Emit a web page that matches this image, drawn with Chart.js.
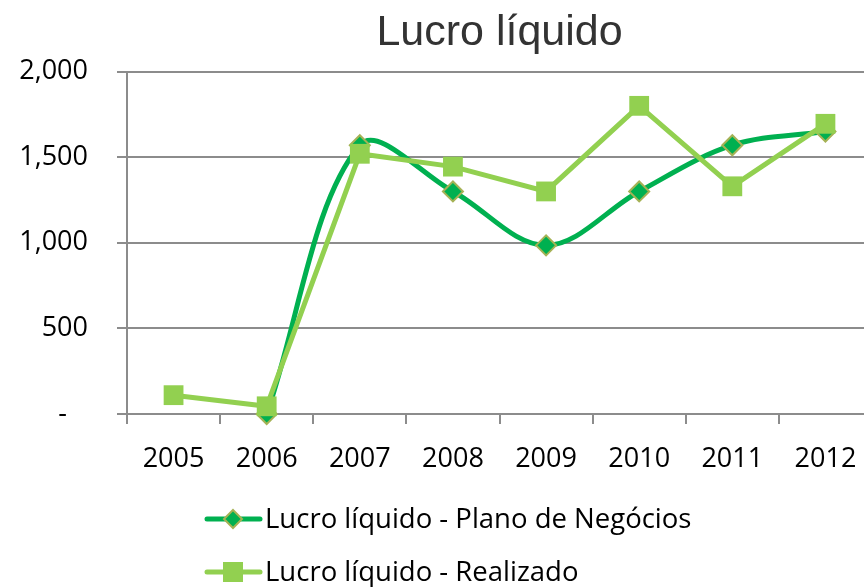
<!DOCTYPE html>
<html>
<head>
<meta charset="utf-8">
<title>Lucro líquido</title>
<script src="https://cdn.jsdelivr.net/npm/chart.js@4.4.0/dist/chart.umd.min.js"></script>
<style>
    html, body { margin: 0; padding: 0; overflow: hidden; background: #fff; }
    #wrap { width: 886px; height: 587px; }
</style>
</head>
<body>
<div id="wrap"><canvas id="lucroChart" width="886" height="587"></canvas></div>
<script>
// Lucro líquido: plano de negócios vs realizado
const years = ['2005', '2006', '2007', '2008', '2009', '2010', '2011', '2012'];
const planoNegocios = [null, 0, 1570, 1300, 985, 1300, 1570, 1650];
const realizado = [110, 45, 1520, 1445, 1300, 1800, 1330, 1695];
const yTicks = [0, 500, 1000, 1500, 2000];

const darkGreen = '#00B050';
const lightGreen = '#92D050';
const olive = '#A5B255';
const gridGray = '#8C8C8C';
const textFont = "'Open Sans', 'Liberation Sans', sans-serif";

// Legend drawn in two left-aligned rows under the axis
const stackedLegend = {
    id: 'stackedLegend',
    afterDraw(chart) {
        const ctx = chart.ctx;
        const rows = [519, 572];
        ctx.save();
        chart.data.datasets.forEach((ds, i) => {
            const y = rows[i];
            ctx.strokeStyle = ds.borderColor;
            ctx.lineWidth = 5;
            ctx.lineCap = 'round';
            ctx.beginPath();
            ctx.moveTo(207, y);
            ctx.lineTo(260, y);
            ctx.stroke();

            ctx.fillStyle = ds.pointBackgroundColor;
            ctx.strokeStyle = ds.pointBorderColor;
            ctx.lineWidth = 2;
            ctx.beginPath();
            if (ds.pointStyle === 'rectRot') {
                ctx.moveTo(233, y - 9);
                ctx.lineTo(242, y);
                ctx.lineTo(233, y + 9);
                ctx.lineTo(224, y);
                ctx.closePath();
                ctx.fill();
                ctx.stroke();
            } else {
                ctx.rect(223, y - 10, 20, 20);
                ctx.fill();
            }

            ctx.fillStyle = '#000';
            ctx.font = '27.5px ' + textFont;
            ctx.textBaseline = 'middle';
            ctx.textAlign = 'left';
            ctx.fillText(ds.label, 265, y + 1);
        });
        ctx.restore();
    }
};

new Chart(document.getElementById('lucroChart'), {
    type: 'line',
    data: {
        labels: years,
        datasets: [
            {
                label: 'Lucro líquido - Plano de Negócios',
                data: planoNegocios,
                borderColor: darkGreen,
                borderWidth: 5,
                tension: 0.35,
                pointStyle: 'rectRot',
                pointRadius: 10,
                pointBackgroundColor: darkGreen,
                pointBorderColor: olive,
                pointBorderWidth: 2,
                spanGaps: false,
                order: 2
            },
            {
                label: 'Lucro líquido - Realizado',
                data: realizado,
                borderColor: lightGreen,
                borderWidth: 5,
                tension: 0,
                pointStyle: 'rect',
                pointRadius: 14,
                pointBackgroundColor: lightGreen,
                pointBorderColor: lightGreen,
                pointBorderWidth: 0,
                order: 1
            }
        ]
    },
    options: {
        responsive: false,
        animation: false,
        clip: false,
        layout: { padding: { top: 0, right: 0, bottom: 114, left: 0 } },
        plugins: {
            legend: { display: false },
            tooltip: { enabled: false },
            title: {
                display: true,
                fullSize: false,
                text: 'Lucro líquido',
                color: '#333',
                font: { family: "'Liberation Sans', Arial, sans-serif", size: 43, weight: 'normal' },
                padding: { top: 7, bottom: 13 }
            }
        },
        scales: {
            x: {
                offset: true,
                afterFit(scale) {
                    scale.height = 59;
                    scale.paddingLeft = 0;
                    scale.paddingRight = 0;
                },
                grid: {
                    offset: true,
                    drawOnChartArea: false,
                    color: gridGray,
                    lineWidth: 2,
                    tickLength: 10
                },
                border: { color: gridGray, width: 2 },
                ticks: {
                    color: '#000',
                    padding: 19,
                    maxRotation: 0,
                    font: { family: textFont, size: 27 }
                }
            },
            y: {
                min: 0,
                max: 2000,
                afterFit(scale) { scale.width = 127; },
                afterBuildTicks(scale) { scale.ticks = yTicks.map(v => ({ value: v })); },
                grid: {
                    color: gridGray,
                    lineWidth: 2,
                    tickLength: 10
                },
                border: { color: gridGray, width: 2 },
                ticks: {
                    color: '#000',
                    padding: 29,
                    font: { family: textFont, size: 27 },
                    callback: v => v === 0 ? '-   ' : v.toLocaleString('en-US')
                }
            }
        }
    },
    plugins: [stackedLegend]
});
</script>
</body>
</html>
